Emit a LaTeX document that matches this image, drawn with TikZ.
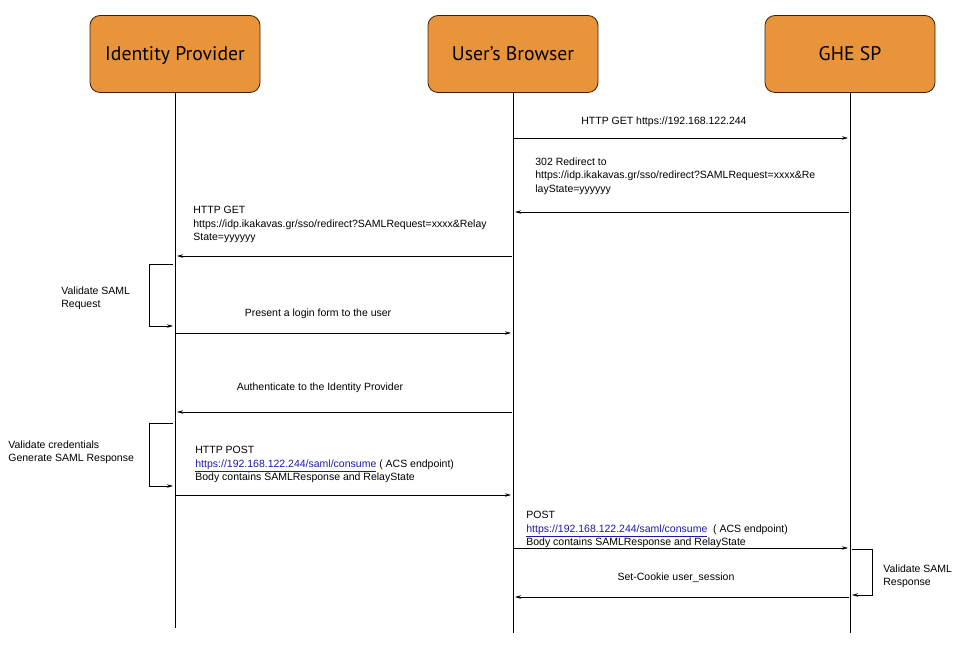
\documentclass[tikz,border=0pt]{standalone}
\usepackage{fontspec}
\setmainfont{Liberation Sans}
\newfontfamily\headfont{PT Sans}
\usetikzlibrary{arrows.meta,positioning}
\definecolor{actorfill}{HTML}{E8943A}
\definecolor{actorline}{HTML}{3B2108}
\definecolor{linkblue}{HTML}{1A1AA6}
\newcommand\lnk[1]{\textcolor{linkblue}{\underline{#1}}}

\begin{document}
\begin{tikzpicture}[x=1pt,y=-1pt,>={Stealth[length=6pt,width=3.5pt]},line width=0.8pt,
                actor/.style={rectangle,rounded corners=10pt,draw=actorline,fill=actorfill,
                  minimum width=170pt,minimum height=77pt,text height=17.7pt,text depth=4pt,
                  font=\headfont\fontsize{19.7}{22}\selectfont},
                msg/.style={->,shorten >=2pt,shorten <=1pt},
                msgtext/.style={font=\fontsize{10.5}{13.5}\selectfont,align=left,inner sep=0pt,anchor=north west},
                msgline/.style={font=\fontsize{10.5}{13.5}\selectfont,inner sep=0pt}]
  \useasboundingbox (0,0) rectangle (961,658);

  \node[actor] (idp) at (175,54) {Identity Provider};
  \node[actor] (usr) at (513,54) {User’s Browser};
  \node[actor] (sp) at (850,54) {GHE SP};

  % lifelines
  \coordinate (idpend) at (idp.south |- 0,628);
  \coordinate (usrend) at (usr.south |- 0,633);
  \coordinate (spend) at (sp.south |- 0,633);
  \draw (idp.south) -- (idpend);
  \draw (usr.south) -- (usrend);
  \draw (sp.south) -- (spend);

  % message ends
  \coordinate (u1) at (usr |- 0,138);  \coordinate (s1) at (sp |- 0,138);
  \coordinate (s2) at (sp |- 0,212);   \coordinate (u2) at (usr |- 0,212);
  \coordinate (u3) at (usr |- 0,256);  \coordinate (i3) at (idp |- 0,256);
  \coordinate (i4a) at (173,264);      \coordinate (i4b) at (173,326);
  \coordinate (i5) at (idp |- 0,333);  \coordinate (u5) at (usr |- 0,333);
  \coordinate (u6) at (usr |- 0,412);  \coordinate (i6) at (idp |- 0,412);
  \coordinate (i7a) at (173,423);      \coordinate (i7b) at (173,486);
  \coordinate (i8) at (idp |- 0,495);  \coordinate (u8) at (usr |- 0,495);
  \coordinate (u9) at (usr |- 0,548);  \coordinate (s9) at (sp |- 0,548);
  \coordinate (s10a) at (852,549);     \coordinate (s10b) at (852,595);
  \coordinate (s11) at (sp |- 0,597);  \coordinate (u11) at (usr |- 0,597);

  \path
    (u1) edge [msg] (s1)
    (s2) edge [msg] (u2)
    (u3) edge [msg] (i3)
    (i5) edge [msg] (u5)
    (u6) edge [msg] (i6)
    (i8) edge [msg] (u8)
    (u9) edge [msg] (s9)
    (s11) edge [msg] (u11)
  ;
  \draw[->,shorten >=0pt] (i4a) -- ++(-24,0) |- (i4b);
  \draw[->,shorten >=0pt] (i7a) -- ++(-24,0) |- (i7b);
  \draw[->,shorten >=0pt] (s10a) -- ++(20,0) |- (s10b);

  % texts
  \node[msgline,anchor=west] (t1) at (581,122) {HTTP GET https://192.168.122.244};
  \node[msgtext] (t2) at (535,157) {302 Redirect to\\https://idp.ikakavas.gr/sso/redirect?SAMLRequest=xxxx\&Re\\layState=yyyyyy};
  \node[msgtext] (t3) at (193,206) {HTTP GET\\https://idp.ikakavas.gr/sso/redirect?SAMLRequest=xxxx\&Relay\\State=yyyyyy};
  \node[msgtext] (t4) at (61,286) {Validate SAML\\Request};
  \node[msgline] (t5) at (318,314) {Present a login form to the user};
  \node[msgline] (t6) at (320,388) {Authenticate to the Identity Provider};
  \node[msgtext] (t7) at (8,440) {Validate credentials\\Generate SAML Response};
  \node[msgtext] (t8) at (195,446) {HTTP POST\\\lnk{https://192.168.122.244/saml/consume} ( ACS endpoint)\\Body contains SAMLResponse and RelayState};
  \node[msgtext] (t9) at (526,511) {POST\\\lnk{https://192.168.122.244/saml/consume}\ \ ( ACS endpoint)\\Body contains SAMLResponse and RelayState};
  \node[msgtext] (t10) at (883,564) {Validate SAML\\Response};
  \node[msgline] (t11) at (676,578) {Set-Cookie user\_session};
\end{tikzpicture}
\end{document}
